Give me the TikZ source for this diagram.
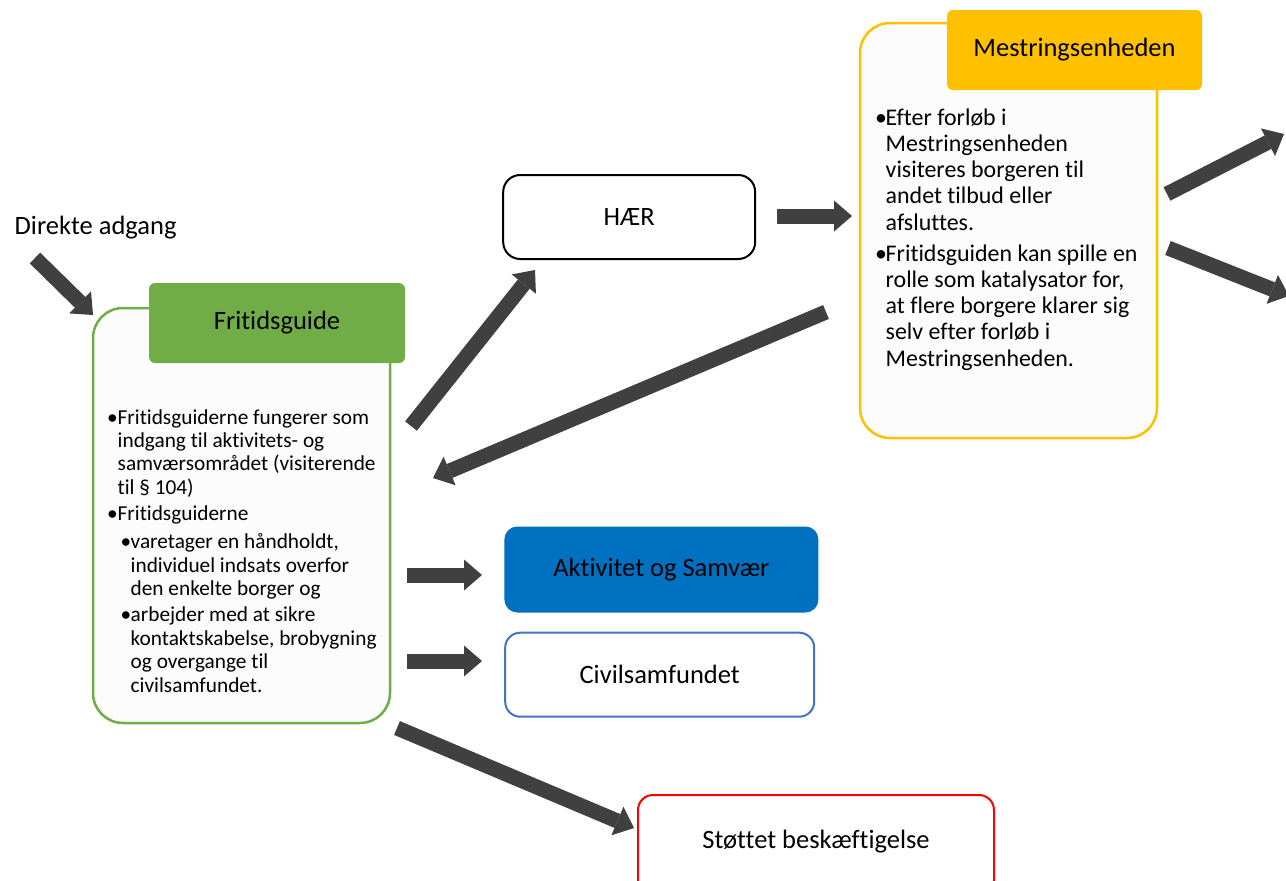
\documentclass[tikz,border=0pt]{standalone}
\usepackage{fontspec}
\setmainfont{Carlito}[Ligatures={NoCommon,NoContextual}]
\usetikzlibrary{arrows.meta,calc}
\definecolor{fgreen}{HTML}{70AD47}
\definecolor{myellow}{HTML}{FFC000}
\definecolor{ablue}{HTML}{0070C0}
\definecolor{cblue}{HTML}{4472C4}
\definecolor{sred}{HTML}{FF0000}
\definecolor{agray}{HTML}{404040}
\definecolor{paper}{HTML}{FCFCFC}
\newcommand\mybul{\makebox[10.5pt][l]{\textbullet}}
\newcommand\mysbul{\hspace*{13.5pt}\makebox[10pt][l]{\textbullet}}
\newcommand\myind{\hspace*{10.5pt}}
\newcommand\mysind{\hspace*{23.5pt}}
\begin{document}
\begin{tikzpicture}[x=1pt,y=-1pt,
  lbl/.style={font=\fontsize{26.5}{32}\selectfont, text=black},
  outerbox/.style={draw, line width=2.5pt, rounded corners=30pt, fill=paper, inner sep=0pt},
  hdr/.style={lbl, rounded corners=6pt, inner sep=0pt},
  smallbox/.style={lbl, rounded corners=15pt, line width=2pt, inner sep=0pt, fill=white},
  fat/.style={draw=agray, line width=15pt, -{Triangle[length=18pt,width=31pt,line width=0pt]}},
  bodyA/.style={anchor=north west, inner sep=0pt, align=left, font=\fontsize{21.3}{23.4}\selectfont},
  bodyB/.style={anchor=north west, inner sep=0pt, align=left, font=\fontsize{23.9}{26.2}\selectfont}
]
\useasboundingbox (0,0) rectangle (1286,881);
\clip (0,0) rectangle (1286,881);
\fill[white] (0,0) rectangle (1286,881);

% Fritidsguide
\node[outerbox, draw=fgreen, minimum width=297pt, minimum height=415pt] (fgbox) at (241.5,515.5) {};
\node[hdr, fill=fgreen, minimum width=256pt, minimum height=80pt] (fg) at (277,323) {Fritidsguide};
\node[bodyA] (fgtext) at (107,407.6) {\strut\mybul Fritidsguiderne fungerer som\\
\myind indgang til aktivitets- og\\
\myind samværsområdet (visiterende\\
\myind til § 104)\\[2.6pt]
\mybul Fritidsguiderne\\[5pt]
\mysbul varetager en håndholdt,\\
\mysind individuel indsats overfor\\
\mysind den enkelte borger og\\[3pt]
\mysbul arbejder med at sikre\\
\mysind kontaktskabelse, brobygning\\
\mysind og overgange til\\
\mysind civilsamfundet.};

% Mestringsenheden
\node[outerbox, draw=myellow, minimum width=297pt, minimum height=415pt] (mebox) at (1008.5,230.5) {};
\node[hdr, fill=myellow, minimum width=255pt, minimum height=80pt] (me) at (1074.5,50) {Mestringsenheden};
\node[bodyB] (metext) at (875,106.7) {\strut\mybul Efter forløb i\\
\myind Mestringsenheden\\
\myind visiteres borgeren til\\
\myind andet tilbud eller\\
\myind afsluttes.\\[5pt]
\mybul Fritidsguiden kan spille en\\
\myind rolle som katalysator for,\\
\myind at flere borgere klarer sig\\
\myind selv efter forløb i\\
\myind Mestringsenheden.};

% Other boxes
\node[smallbox, draw=black, rounded corners=17pt, minimum width=252pt, minimum height=84pt] (haer) at (629.2,217) {HÆR};
\node[smallbox, draw=ablue, fill=ablue, rounded corners=12pt, minimum width=312pt, minimum height=84pt] (akt) at (661.4,569.5) {Aktivitet og Samvær};
\node[smallbox, draw=cblue, minimum width=309pt, minimum height=84pt] (civ) at (659.7,674.7) {Civilsamfundet};
\node[smallbox, draw=sred, minimum width=356pt, minimum height=100pt, text depth=12pt] (stot) at (816,845) {Støttet beskæftigelse};

\node[lbl, anchor=base west, inner sep=0pt] (dir) at (14.5,234) {Direkte adgang};

% Arrow end points
\coordinate (d1) at (35,258);   \coordinate (d2) at (93,315);
\coordinate (a1s) at (411,426); \coordinate (a1e) at (535,270);
\coordinate (a2s) at (826,312); \coordinate (a2e) at (433,478);
\coordinate (a3s) at (777,216); \coordinate (a3e) at (852,216);
\coordinate (a4s) at (407,575); \coordinate (a4e) at (482,575);
\coordinate (a5s) at (407,661); \coordinate (a5e) at (482,661);
\coordinate (a6s) at (397,728); \coordinate (a6e) at (634,828);
\coordinate (a7s) at (1167,194); \coordinate (a7e) at (1284,134);
\coordinate (a8s) at (1168,248); \coordinate (a8e) at (1289,296);

\draw[fat] (d1) -- (d2);
\draw[fat] (a1s) -- (a1e);
\draw[fat] (a2s) -- (a2e);
\draw[fat] (a3s) -- (a3e);
\draw[fat] (a4s) -- (a4e);
\draw[fat] (a5s) -- (a5e);
\draw[fat] (a6s) -- (a6e);
\draw[fat] (a7s) -- (a7e);
\draw[fat] (a8s) -- (a8e);
\end{tikzpicture}
\end{document}
